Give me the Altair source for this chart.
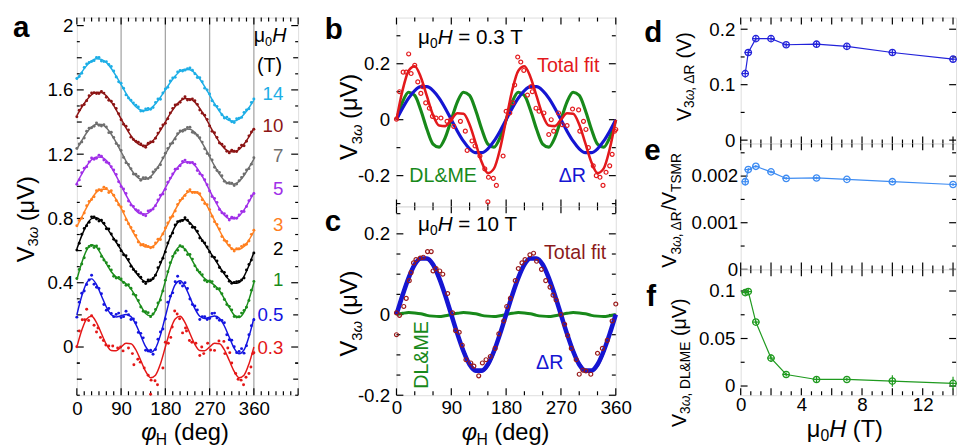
import altair as alt
import pandas as pd

FONT = "Liberation Sans"

# ---------------- data ----------------
PHI = list(range(0, 361, 10))        # angles of the fit curves and of the second set of points (deg)
PHI_DOT = list(range(5, 360, 10))    # angles of the first set of measured points in panel a (deg)

FIELDS = ["14", "10", "7", "5", "3", "2", "1", "0.5", "0.3"]
COLORS = ["#1DAEE6", "#8C1414", "#6E6E6E", "#A02FE8", "#FF7F1F", "#000000", "#1B8C1B", "#1414E0", "#E41717"]
LABEL_Y = [1.571, 1.376, 1.188, 0.982, 0.757, 0.607, 0.417, 0.200, -0.004]

fit_14 = [1.665,1.711,1.751,1.781,1.794,1.790,1.770,1.733,1.686,1.633,1.579,1.532,1.495,1.475,1.471,1.484,1.514,1.554,1.600,1.646,1.686,1.716,1.729,1.725,1.705,1.668,1.621,1.568,1.514,1.467,1.430,1.410,1.406,1.419,1.449,1.489,1.535]
fit_10 = [1.440,1.492,1.537,1.570,1.586,1.584,1.564,1.525,1.476,1.420,1.364,1.315,1.276,1.256,1.254,1.270,1.303,1.348,1.400,1.452,1.497,1.530,1.546,1.544,1.524,1.485,1.436,1.380,1.324,1.275,1.236,1.216,1.214,1.230,1.263,1.308,1.360]
fit_7 = [1.230,1.284,1.333,1.369,1.386,1.385,1.364,1.324,1.273,1.215,1.157,1.106,1.066,1.045,1.044,1.061,1.097,1.146,1.200,1.254,1.303,1.339,1.356,1.355,1.334,1.294,1.243,1.185,1.127,1.076,1.036,1.015,1.014,1.031,1.067,1.116,1.170]
fit_5 = [1.020,1.076,1.127,1.165,1.182,1.181,1.160,1.118,1.065,1.005,0.945,0.892,0.850,0.829,0.828,0.845,0.883,0.934,0.990,1.046,1.097,1.135,1.152,1.151,1.130,1.088,1.035,0.975,0.915,0.862,0.820,0.799,0.798,0.815,0.853,0.904,0.960]
fit_3 = [0.749,0.809,0.869,0.922,0.964,0.982,0.981,0.961,0.918,0.864,0.802,0.740,0.685,0.642,0.622,0.622,0.640,0.681,0.734,0.794,0.854,0.907,0.949,0.967,0.966,0.946,0.903,0.849,0.787,0.725,0.670,0.627,0.607,0.607,0.625,0.666,0.719]
fit_2 = [0.610,0.693,0.760,0.799,0.804,0.783,0.746,0.699,0.652,0.605,0.558,0.511,0.464,0.427,0.406,0.411,0.450,0.517,0.600,0.683,0.750,0.789,0.793,0.773,0.736,0.689,0.642,0.595,0.548,0.501,0.454,0.417,0.396,0.401,0.440,0.507,0.590]
fit_1 = [0.420,0.525,0.603,0.636,0.621,0.574,0.519,0.468,0.436,0.415,0.394,0.362,0.311,0.256,0.209,0.194,0.227,0.305,0.410,0.515,0.593,0.626,0.610,0.564,0.509,0.458,0.426,0.405,0.384,0.352,0.301,0.246,0.199,0.184,0.217,0.295,0.400]
fit_05 = [0.200,0.317,0.399,0.424,0.388,0.319,0.249,0.201,0.187,0.195,0.203,0.189,0.141,0.071,0.002,-0.032,-0.008,0.074,0.190,0.306,0.388,0.412,0.378,0.309,0.239,0.191,0.177,0.185,0.193,0.179,0.131,0.061,-0.008,-0.042,-0.018,0.064,0.180]

# measured points at PHI_DOT
dot_14 = [1.683,1.739,1.770,1.782,1.802,1.776,1.758,1.718,1.650,1.611,1.550,1.518,1.493,1.468,1.484,1.491,1.544,1.581,1.617,1.674,1.711,1.718,1.731,1.723,1.677,1.651,1.600,1.533,1.497,1.445,1.430,1.402,1.421,1.429,1.475,1.522]
dot_10 = [1.474,1.509,1.564,1.583,1.577,1.580,1.535,1.509,1.452,1.386,1.350,1.291,1.274,1.251,1.268,1.277,1.331,1.382,1.420,1.485,1.510,1.544,1.537,1.544,1.510,1.455,1.416,1.342,1.304,1.262,1.218,1.225,1.217,1.255,1.280,1.338]
dot_7 = [1.263,1.301,1.361,1.374,1.380,1.383,1.334,1.304,1.252,1.180,1.136,1.076,1.062,1.053,1.048,1.089,1.116,1.177,1.235,1.269,1.327,1.343,1.366,1.337,1.318,1.275,1.204,1.164,1.098,1.066,1.020,1.020,1.015,1.055,1.102,1.138]
dot_5 = [1.040,1.112,1.152,1.169,1.194,1.163,1.144,1.102,1.029,0.983,0.909,0.875,0.848,0.823,0.847,0.859,0.915,0.952,1.026,1.077,1.110,1.154,1.148,1.149,1.099,1.068,1.010,0.937,0.899,0.836,0.816,0.807,0.801,0.844,0.875,0.940]
dot_3 = [0.787,0.834,0.906,0.935,0.979,0.994,0.961,0.945,0.885,0.843,0.767,0.721,0.654,0.638,0.626,0.623,0.671,0.703,0.772,0.814,0.887,0.924,0.968,0.961,0.961,0.917,0.886,0.814,0.762,0.688,0.657,0.612,0.611,0.626,0.640,0.701]
dot_2 = [0.646,0.737,0.776,0.810,0.784,0.770,0.735,0.670,0.633,0.574,0.545,0.483,0.452,0.407,0.417,0.427,0.494,0.553,0.647,0.709,0.780,0.787,0.789,0.745,0.721,0.661,0.623,0.564,0.535,0.472,0.441,0.397,0.407,0.417,0.480,0.541]
dot_1 = [0.483,0.556,0.625,0.619,0.610,0.542,0.502,0.440,0.432,0.401,0.388,0.329,0.289,0.223,0.214,0.205,0.274,0.348,0.468,0.564,0.602,0.624,0.575,0.547,0.479,0.450,0.406,0.407,0.362,0.331,0.264,0.231,0.187,0.211,0.248,0.354]
dot_05 = [0.279,0.348,0.417,0.391,0.364,0.264,0.240,0.189,0.211,0.189,0.201,0.175,0.091,0.057,-0.025,-0.045,0.048,0.112,0.278,0.337,0.440,0.380,0.364,0.264,0.230,0.189,0.171,0.209,0.181,0.165,0.076,0.042,-0.035,-0.010,0.008,0.132]

# measured points at PHI
dot2_14 = [1.671,1.703,1.761,1.777,1.802,1.780,1.775,1.745,1.680,1.641,1.569,1.536,1.504,1.468,1.481,1.479,1.521,1.542,1.606,1.656,1.678,1.721,1.723,1.737,1.701,1.676,1.611,1.574,1.506,1.477,1.425,1.417,1.397,1.423,1.459,1.483,1.543]
dot2_10 = [1.433,1.501,1.532,1.581,1.578,1.590,1.554,1.529,1.484,1.414,1.374,1.306,1.281,1.263,1.243,1.276,1.299,1.358,1.392,1.457,1.506,1.523,1.557,1.539,1.532,1.475,1.442,1.376,1.333,1.269,1.246,1.208,1.219,1.237,1.253,1.314,1.355]
dot2_7 = [1.236,1.276,1.343,1.365,1.394,1.375,1.369,1.336,1.267,1.223,1.147,1.110,1.075,1.038,1.054,1.056,1.104,1.134,1.206,1.264,1.295,1.344,1.350,1.367,1.330,1.302,1.233,1.191,1.119,1.086,1.031,1.022,1.005,1.035,1.077,1.110,1.178]
dot2_5 = [1.013,1.085,1.122,1.176,1.174,1.187,1.150,1.122,1.073,0.999,0.955,0.883,0.855,0.836,0.817,0.851,0.879,0.944,0.982,1.051,1.106,1.128,1.163,1.146,1.138,1.078,1.041,0.971,0.924,0.856,0.830,0.791,0.803,0.822,0.843,0.910,0.955]
dot2_3 = [0.755,0.801,0.879,0.918,0.972,0.972,0.986,0.973,0.912,0.872,0.792,0.744,0.694,0.635,0.632,0.617,0.647,0.669,0.740,0.804,0.846,0.912,0.943,0.979,0.962,0.954,0.893,0.855,0.779,0.735,0.665,0.634,0.598,0.611,0.635,0.660,0.727]
dot2_2 = [0.603,0.702,0.755,0.810,0.796,0.789,0.736,0.703,0.660,0.599,0.568,0.502,0.469,0.434,0.395,0.417,0.446,0.527,0.592,0.688,0.759,0.782,0.804,0.768,0.744,0.679,0.648,0.591,0.557,0.495,0.464,0.409,0.401,0.408,0.430,0.513,0.585]
dot2_1 = [0.426,0.517,0.613,0.632,0.629,0.564,0.524,0.480,0.430,0.423,0.384,0.366,0.320,0.249,0.219,0.189,0.234,0.293,0.416,0.525,0.585,0.631,0.604,0.576,0.505,0.466,0.416,0.411,0.376,0.362,0.296,0.253,0.190,0.188,0.227,0.289,0.408]
dot2_05 = [0.186,0.335,0.389,0.446,0.372,0.331,0.229,0.209,0.203,0.183,0.223,0.171,0.151,0.085,-0.020,-0.020,-0.016,0.094,0.174,0.316,0.406,0.398,0.400,0.299,0.255,0.171,0.189,0.177,0.211,0.167,0.151,0.045,0.002,-0.028,-0.038,0.076,0.170]

# panel b (0.3 T): fits and data
b_dr = [0,0.041,0.077,0.104,0.118,0.118,0.104,0.077,0.041,0,-0.041,-0.077,-0.104,-0.118,-0.118,-0.104,-0.077,-0.041,0,0.041,0.077,0.104,0.118,0.118,0.104,0.077,0.041,0,-0.041,-0.077,-0.104,-0.118,-0.118,-0.104,-0.077,-0.041,0]
b_dl = [0,0.064,0.098,0.087,0.034,-0.034,-0.087,-0.098,-0.064,0,0.064,0.098,0.087,0.034,-0.034,-0.087,-0.098,-0.064,0,0.064,0.098,0.087,0.034,-0.034,-0.087,-0.098,-0.064,0,0.064,0.098,0.087,0.034,-0.034,-0.087,-0.098,-0.064,0]
b_total = [0,0.105,0.175,0.191,0.152,0.084,0.017,-0.021,-0.023,0,0.023,0.021,-0.017,-0.084,-0.152,-0.191,-0.175,-0.105,0,0.105,0.175,0.191,0.152,0.084,0.017,-0.021,-0.023,0,0.023,0.021,-0.017,-0.084,-0.152,-0.191,-0.175,-0.105,0]
b_pts_phi = [0,5,11,16,20,24,30,35,40,43,48,54,59,65,73,83,89,94,105,113,116,124,129,137,145,151,159,164,150,175,180,186,191,194,199,204,209,215,221,223,229,234,242,250,254,258,266,272,280,289,299,301,307,311,315,323,328,334,339,344,350,354,358,360]
b_pts_v = [0.002,0.10,0.17,0.17,0.235,0.165,0.194,0.135,0.094,0.118,0.06,0.041,0.012,0.006,0.006,-0.006,0.0,-0.024,-0.006,-0.041,-0.11,-0.076,-0.094,-0.13,-0.176,-0.206,-0.21,-0.235,-0.294,-0.13,0.03,0.024,0.06,0.124,0.224,0.206,0.176,0.088,0.118,0.1,0.041,0.03,0.024,-0.053,0.0,-0.041,0.024,-0.018,-0.021,0.038,0.035,-0.041,-0.006,-0.035,-0.1,-0.165,-0.2,-0.206,-0.235,-0.188,-0.165,-0.124,-0.041,-0.035]

# panel c (10 T)
c_dr = [0,0.048,0.091,0.124,0.139,0.139,0.124,0.091,0.048,0,-0.048,-0.091,-0.124,-0.139,-0.139,-0.124,-0.091,-0.048,0,0.048,0.091,0.124,0.139,0.139,0.124,0.091,0.048,0,-0.048,-0.091,-0.124,-0.139,-0.139,-0.124,-0.091,-0.048,0]
c_dl = [0,0.003,0.005,0.004,0.002,-0.002,-0.004,-0.005,-0.003,0,0.003,0.005,0.004,0.002,-0.002,-0.004,-0.005,-0.003,0,0.003,0.005,0.004,0.002,-0.002,-0.004,-0.005,-0.003,0,0.003,0.005,0.004,0.002,-0.002,-0.004,-0.005,-0.003,0]
c_total = [0,0.051,0.096,0.128,0.141,0.137,0.120,0.086,0.045,0,-0.045,-0.086,-0.120,-0.137,-0.141,-0.128,-0.096,-0.051,0,0.051,0.096,0.128,0.141,0.137,0.120,0.086,0.045,0,-0.045,-0.086,-0.120,-0.137,-0.141,-0.128,-0.096,-0.051,0]
c_pts_phi = [0,0,5,12,16,21,24,28,32,39,44,51,57,60,65,71,76,84,92,97,103,108,114,122,127,135,141,147,154,162,168,176,181,187,195,200,206,211,219,225,230,238,245,252,257,262,270,276,281,287,295,300,306,311,319,330,338,346,354,360]
c_pts_v = [0.004,-0.05,-0.002,0.02,0.04,0.084,0.104,0.128,0.136,0.14,0.142,0.156,0.156,0.108,0.114,0.108,0.1,0.052,0.004,-0.04,-0.044,-0.076,-0.112,-0.12,-0.128,-0.152,-0.12,-0.112,-0.104,-0.084,-0.048,-0.016,0.02,0.04,0.084,0.114,0.128,0.136,0.148,0.152,0.132,0.112,0.084,0.068,0.048,0.036,0.0,-0.024,-0.052,-0.084,-0.112,-0.148,-0.138,-0.14,-0.148,-0.096,-0.084,-0.064,-0.016,0.026]

# panels d-f
H_T = [0.3, 0.5, 1, 2, 3, 5, 7, 10, 14]
H_ERR = [0.25, 0.25, 0.25, 0.25, 0.25, 0.25, 0.25, 0.25, 0.25]
d_v = [0.120, 0.158, 0.183, 0.183, 0.172, 0.173, 0.169, 0.158, 0.146]
d_err = [0.007, 0.006, 0.005, 0.005, 0.004, 0.005, 0.005, 0.005, 0.005]
e_v = [0.00188, 0.00214, 0.00221, 0.00209, 0.00195, 0.00196, 0.00193, 0.00188, 0.00182]
e_err = [0.00008, 0.00004, 0.00003, 0.00003, 0.00003, 0.00003, 0.00003, 0.00003, 0.00003]
f_v = [0.0983, 0.0994, 0.0673, 0.0294, 0.0121, 0.0069, 0.0069, 0.0052, 0.0028]
f_err = [0.003, 0.003, 0.002, 0.004, 0.002, 0.003, 0.002, 0.006, 0.007]

RED, GREEN, BLUE = "#E3191C", "#18891A", "#1515D2"
DARKRED = "#8B1A1A"

# ---------------- helpers ----------------
ONE = pd.DataFrame({"k": [0]})
CW = {"V": .667, "3": .556, "0": .556, "1": .556, "ω": .70, " ": .278, "(": .333, ")": .333,
      "μ": .576, "φ": .62, "H": .722, "d": .556, "e": .556, "g": .556, ",": .278, "Δ": .668,
      "R": .722, "/": .278, "T": .611, "S": .667, "M": .833, "D": .722, "L": .556, "&": .667,
      "E": .667, "=": .584, ".": .278}


def tw(s, size):
    return sum(CW.get(ch, 0.56) for ch in s) * size


def axis(values, pad=5):
    return alt.Axis(values=values, labelExpr="'' + datum.value", ticks=False, domain=False,
                    grid=False, title=None, labelFont=FONT, labelFontSize=19,
                    labelColor="black", labelPadding=pad, labelFlush=False, labelOverlap=False)


def label(s, x, y, size=20, color="black", bold=False, align="left", angle=0, opacity=1):
    return alt.Chart(ONE).mark_text(
        text=s, font=FONT, fontSize=size, fontWeight="bold" if bold else "normal",
        align=align, baseline="alphabetic", angle=angle, color=color, opacity=opacity
    ).encode(x=alt.value(x), y=alt.value(y))


def rich(segs, x, y, align="center", angle=0, color="black"):
    """Text made of pieces (sub-scripts, italics); each piece placed at its own anchor."""
    total = sum(tw(t, sz) for t, sz, dy, it in segs)
    cur = {"center": -total / 2, "left": 0.0, "right": -total}[align]
    out = []
    for t, sz, dy, it in segs:
        body = t.lstrip(" ")
        cur += tw(" " * (len(t) - len(body)), sz)
        if angle == 270:
            px, py = x + dy, y - cur
        else:
            px, py = x + cur, y + dy
        out.append(alt.Chart(ONE).mark_text(
            text=body, font=FONT, fontSize=sz, fontStyle="italic" if it else "normal",
            align="left", baseline="alphabetic", angle=angle, color=color
        ).encode(x=alt.value(round(px, 1)), y=alt.value(round(py, 1))))
        cur += tw(body, sz)
    return out


def ticks(X, Y, w, h, xsets, ysets):
    out = []
    for vals, n in xsets:
        base = alt.Chart(pd.DataFrame({"x": vals})).mark_rule(color="black", strokeWidth=1.2)
        out.append(base.encode(x=X, y=alt.value(h), y2=alt.value(h - n)))
        out.append(base.encode(x=X, y=alt.value(0), y2=alt.value(n)))
    for vals, n in ysets:
        base = alt.Chart(pd.DataFrame({"y": vals})).mark_rule(color="black", strokeWidth=1.2)
        out.append(base.encode(y=Y, x=alt.value(0), x2=alt.value(n)))
        out.append(base.encode(y=Y, x=alt.value(w), x2=alt.value(w - n)))
    return out


def V3W_TITLE(size=24, sub=15, dy=5):
    return [("V", size, 0, False), ("3", sub, dy, False), ("ω", sub, dy, True), (" (μV)", size, 0, False)]


PHI_TITLE = [("φ", 24, 0, True), ("H", 16, 5, False), (" (deg)", 24, 0, False)]

# ---------------- panel a ----------------
A_W, A_H = 225, 384
XA = alt.X("x:Q", scale=alt.Scale(domain=[0, 450], nice=False, zero=False), axis=axis([0, 90, 180, 270, 360], 5))
YA = alt.Y("y:Q", scale=alt.Scale(domain=[-0.3, 2.05], nice=False, zero=False), axis=axis([0, 0.4, 0.8, 1.2, 1.6, 2], 4))

fits_a = [fit_14, fit_10, fit_7, fit_5, fit_3, fit_2, fit_1, fit_05, b_total]
dots_a = [
    (PHI_DOT + PHI, dot_14 + dot2_14), (PHI_DOT + PHI, dot_10 + dot2_10), (PHI_DOT + PHI, dot_7 + dot2_7),
    (PHI_DOT + PHI, dot_5 + dot2_5), (PHI_DOT + PHI, dot_3 + dot2_3), (PHI_DOT + PHI, dot_2 + dot2_2),
    (PHI_DOT + PHI, dot_1 + dot2_1), (PHI_DOT + PHI, dot_05 + dot2_05), (b_pts_phi, b_pts_v),
]
fit_rows, dot_rows = [], []
for f, c, ys, (dx_, dy_) in zip(FIELDS, COLORS, fits_a, dots_a):
    fit_rows += [{"x": p, "y": v, "s": f, "c": c} for p, v in zip(PHI, ys)]
    dot_rows += [{"x": p, "y": v, "s": f, "c": c} for p, v in zip(dx_, dy_)]

a_x_major = [0, 90, 180, 270, 360, 450]
a_x_minor = [v for v in range(15, 450, 15) if v % 90]
a_y_major = [0, 0.4, 0.8, 1.2, 1.6, 2.0]
a_y_mid = [-0.2, 0.2, 0.6, 1.0, 1.4, 1.8]
a_y_minor = [round(-0.3 + 0.2 * i, 2) for i in range(12)] + [-0.1]

a_layers = [
    alt.Chart(pd.DataFrame({"x": [90, 180, 270, 360]})).mark_rule(color="#A6A6A6", strokeWidth=1.3).encode(x=XA),
    *ticks(XA, YA, A_W, A_H, [(a_x_major, 7), (a_x_minor, 4)], [(a_y_major, 7), (a_y_mid, 5), (a_y_minor, 3)]),
    alt.Chart(pd.DataFrame(fit_rows)).mark_line(strokeWidth=1.5, interpolate="monotone").encode(
        x=XA, y=YA, detail="s:N", color=alt.Color("c:N", scale=None)),
    alt.Chart(pd.DataFrame(dot_rows)).mark_circle(size=9, opacity=1).encode(
        x=XA, y=YA, color=alt.Color("c:N", scale=None)),
    alt.Chart(pd.DataFrame({"x": [420] * 9, "y": LABEL_Y, "s": FIELDS, "c": COLORS})).mark_text(
        align="right", baseline="middle", font=FONT, fontSize=19).encode(
        x=XA, y=YA, text="s:N", color=alt.Color("c:N", scale=None)),
    label("a", -65, 20, 30, bold=True),
    *rich(V3W_TITLE(), -44, 205, angle=270),
    *rich(PHI_TITLE, 110, 430),
    *rich([("μ", 20, 0, False), ("0", 13, 4, False), ("H", 20, 0, True)], 213, 25, align="right"),
    label("(T)", 196, 55, 20, align="center"),
]
A = alt.layer(*a_layers).properties(width=A_W, height=A_H)

# ---------------- panel b ----------------
B_W, B_H = 223, 192
XS_BC = alt.Scale(domain=[0, 360], nice=False, zero=False)
XB = alt.X("x:Q", scale=XS_BC, axis=None)
YB = alt.Y("y:Q", scale=alt.Scale(domain=[-0.31, 0.365], nice=False, zero=False), axis=axis([-0.2, 0, 0.2], 7))
bc_x_major = [0, 90, 180, 270, 360]
bc_x_minor = [30, 60, 120, 150, 210, 240, 300, 330]


def curve(vals, color, width):
    return alt.Chart(pd.DataFrame({"x": PHI, "y": vals})).mark_line(
        color=color, strokeWidth=width, interpolate="monotone")


b_layers = [
    *ticks(XB, YB, B_W, B_H, [(bc_x_major, 7), (bc_x_minor, 4)], [([-0.2, 0, 0.2], 7), ([-0.3, -0.1, 0.1, 0.3], 4)]),
    curve(b_dl, GREEN, 3.2).encode(x=XB, y=YB),
    curve(b_dr, BLUE, 3.2).encode(x=XB, y=YB),
    curve(b_total, RED, 2.6).encode(x=XB, y=YB),
    alt.Chart(pd.DataFrame({"x": b_pts_phi, "y": b_pts_v})).mark_point(
        shape="circle", filled=False, size=16, strokeWidth=1.2, color=RED, opacity=1).encode(x=XB, y=YB),
    label("b", -73, 20, 30, bold=True, opacity=0),
    label("b", -73, 22, 30, bold=True),
    *rich(V3W_TITLE(), -40, 101, angle=270),
    *rich([("μ", 21, 0, False), ("0", 14, 4, False), ("H", 21, 0, True), (" = 0.3 T", 21, 0, False)], 22, 27, align="left"),
    label("Total fit", 143, 55, 20, RED),
    label("DL&ME", 13, 167, 20, GREEN),
    label("ΔR", 165, 167, 20, BLUE),
]
B = alt.layer(*b_layers).properties(width=B_W, height=B_H)

# ---------------- panel c ----------------
XC = alt.X("x:Q", scale=XS_BC, axis=axis([0, 90, 180, 270, 360], 4))
YC = alt.Y("y:Q", scale=alt.Scale(domain=[-0.2, 0.268], nice=False, zero=False), axis=axis([-0.2, 0, 0.2], 7))
c_layers = [
    *ticks(XC, YC, B_W, B_H, [(bc_x_major, 7), (bc_x_minor, 4)],
           [([-0.2, 0, 0.2], 7), ([-0.15, -0.1, -0.05, 0.05, 0.1, 0.15, 0.25], 4)]),
    curve(c_dl, GREEN, 3.0).encode(x=XC, y=YC),
    curve(c_total, DARKRED, 2.0).encode(x=XC, y=YC),
    curve(c_dr, BLUE, 4.6).encode(x=XC, y=YC),
    alt.Chart(pd.DataFrame({"x": c_pts_phi, "y": c_pts_v})).mark_point(
        shape="circle", filled=False, size=16, strokeWidth=1.2, color="#9A1A1A", opacity=1).encode(x=XC, y=YC),
    label("c", -73, 25, 30, bold=True),
    *rich(V3W_TITLE(), -40, 109, angle=270),
    *rich(PHI_TITLE, 111, 238),
    *rich([("μ", 21, 0, False), ("0", 14, 4, False), ("H", 21, 0, True), (" = 10 T", 21, 0, False)], 22, 25, align="left"),
    label("Total fit", 150, 53, 20, DARKRED),
    label("DL&ME", 32, 151, 20, GREEN, align="center", angle=270),
    label("ΔR", 142, 165, 20, BLUE),
]
C = alt.layer(*c_layers).properties(width=B_W, height=B_H)

# ---------------- panels d, e, f ----------------
D_W, D_H = 219, 128
XS_DEF = alt.Scale(domain=[0, 14.2], nice=False, zero=False)
def_x_major = [0, 2, 4, 6, 8, 10, 12, 14]
def_x_minor = [0.667, 1.333, 2.667, 3.333, 4.667, 5.333, 6.667, 7.333, 8.667, 9.333, 10.667, 11.333, 12.667, 13.333]


def small(vals, errs, color, ydom, ylabels, yticks, xaxis, ypad, extra):
    ysc = alt.Scale(domain=ydom, nice=False, zero=False)
    yax = axis(ylabels, ypad)
    X = alt.X("x:Q", scale=XS_DEF, axis=xaxis)
    Y = alt.Y("y:Q", scale=ysc, axis=yax)
    df = pd.DataFrame({
        "x": H_T, "y": vals,
        "lo": [v - e for v, e in zip(vals, errs)], "hi": [v + e for v, e in zip(vals, errs)],
        "xl": [h - e for h, e in zip(H_T, H_ERR)], "xr": [h + e for h, e in zip(H_T, H_ERR)],
    })
    base = alt.Chart(df)
    layers = [
        *ticks(X, Y, D_W, D_H, [(def_x_major, 7), (def_x_minor, 4)], yticks),
        base.mark_line(color=color, strokeWidth=1.2).encode(x=X, y=Y),
        base.mark_rule(color=color, strokeWidth=1.2).encode(x=X, y=alt.Y("lo:Q", scale=ysc, axis=yax), y2="hi:Q"),
        base.mark_rule(color=color, strokeWidth=1.2).encode(x=alt.X("xl:Q", scale=XS_DEF, axis=xaxis), x2="xr:Q", y=Y),
        base.mark_point(shape="circle", filled=False, size=42, strokeWidth=1.3, color=color, opacity=1).encode(x=X, y=Y),
        *extra,
    ]
    return alt.layer(*layers).properties(width=D_W, height=D_H)


D = small(d_v, d_err, "#2222DA", [-0.006, 0.221], [0, 0.1, 0.2],
          [([0, 0.1, 0.2], 7), ([0.05, 0.15], 4)], None, 6,
          [label("d", -98, 25, 30, bold=True),
           *rich([("V", 20, 0, False), ("3", 14, 4, False), ("ω", 14, 4, True), (", ΔR", 14, 4, False), (" (V)", 20, 0, False)],
                 -51, 60, angle=270)])
E = small(e_v, e_err, "#3E8CF2", [0, 0.0027], [0, 0.001, 0.002],
          [([0, 0.001, 0.002], 7), ([0.0005, 0.0015, 0.0025], 4)], None, 3,
          [label("e", -98, 17, 30, bold=True),
           *rich([("V", 20, 0, False), ("3", 14, 5, False), ("ω", 14, 5, True), (", ΔR", 14, 5, False),
                  ("/V", 20, 0, False), ("TSMR", 14, 5, False)], -66, 68, angle=270)])
F = small(f_v, f_err, "#1F9A1F", [-0.0097, 0.1228], [0, 0.05, 0.1],
          [([0, 0.05, 0.1], 7), ([0.025, 0.075], 4)], axis([0, 4, 8, 12], 1), 6,
          [label("f", -96, 37, 30, bold=True),
           *rich([("V", 20, 0, False), ("3", 14, 4, False), ("ω", 14, 4, True), (", DL&ME", 14, 4, False), (" (μV)", 20, 0, False)],
                 -56, 95, angle=270),
           *rich([("μ", 24, 0, False), ("0", 16, 5, False), ("H", 24, 0, True), (" (T)", 24, 0, False)], 106, 170)])

BC = alt.vconcat(B, C, spacing=0, bounds="flush")
DEF = alt.vconcat(D, E, F, spacing=0, bounds="flush")

chart = alt.hconcat(alt.hconcat(A, BC, spacing=24), DEF, spacing=11).properties(
    padding={"left": 4, "top": 1, "right": 0, "bottom": 0}
).configure_view(stroke="black", strokeWidth=2).configure(background="white")

chart.save("out.html", embed_options={"renderer": "svg", "actions": False})
